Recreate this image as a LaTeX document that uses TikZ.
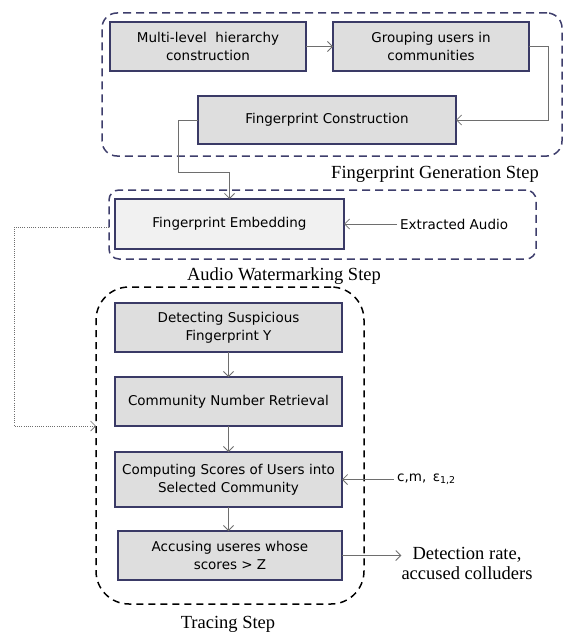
\documentclass[tikz,border=0pt]{standalone}
\usepackage{fontspec}
\setmainfont{Liberation Serif}
\setsansfont{DejaVu Sans}
\usetikzlibrary{arrows.meta}
\definecolor{boxfill}{HTML}{DEDEDE}
\definecolor{embfill}{HTML}{F1F1F1}
\definecolor{navy}{HTML}{3A3A66}
\definecolor{dashnavy}{HTML}{3E3E6C}
\definecolor{arrgray}{HTML}{6E6E6E}
\begin{document}
\begin{tikzpicture}[x=1pt,y=-1pt,
  procbox/.style={draw=navy, line width=1.4pt, fill=boxfill, outer sep=0pt, inner sep=0pt,
    font=\sffamily\fontsize{13.5}{18}\selectfont, align=center},
  framenavy/.style={draw=dashnavy, line width=1.5pt, dash pattern=on 8pt off 5pt, outer sep=0pt, inner sep=0pt},
  frameblack/.style={draw=black, line width=1.5pt, dash pattern=on 7pt off 5pt, outer sep=0pt, inner sep=0pt, rounded corners=33pt},
  steplabel/.style={font=\rmfamily\fontsize{18.5}{20}\selectfont, align=center, inner sep=0pt},
  sidelabel/.style={font=\sffamily\fontsize{13.5}{18}\selectfont, inner sep=3pt},
  arr/.style={draw=arrgray, line width=0.9pt, -{Straight Barb[length=5pt,width=10pt,line width=0.8pt]}},
  dotarr/.style={draw=arrgray, line width=0.7pt, dash pattern=on 1pt off 1.2pt, -{Straight Barb[length=5pt,width=10pt,line width=0.7pt]}}
]
\useasboundingbox (0,0) rectangle (579,634);

% dashed frames
\node[framenavy, rounded corners=15pt, minimum width=460pt, minimum height=143pt] (F1) at (332,84.5) {};
\node[framenavy, rounded corners=10pt, minimum width=427pt, minimum height=69pt] (F2) at (322.5,224.5) {};
\node[frameblack, minimum width=268pt, minimum height=317pt] (F3) at (230,445.5) {};

% process boxes
\node[procbox, minimum width=196pt, minimum height=49pt] (A) at (208,46.5) {Multi-level\ \ hierarchy\\construction};
\node[procbox, minimum width=196pt, minimum height=49pt] (B) at (431,46.5) {Grouping users in\\communities};
\node[procbox, minimum width=258pt, minimum height=48pt] (C) at (327,120) {Fingerprint Construction};
\node[procbox, fill=embfill, minimum width=229pt, minimum height=50pt] (E) at (229.5,224) {Fingerprint Embedding};
\node[procbox, minimum width=227pt, minimum height=49pt] (D) at (228.5,327.5) {Detecting Suspicious\\Fingerprint Y};
\node[procbox, minimum width=227pt, minimum height=49pt] (N) at (228.5,401.5) {Community Number Retrieval};
\node[procbox, minimum width=227pt, minimum height=55pt] (S) at (228.5,479.5) {Computing Scores of Users into\\Selected Community};
\node[procbox, minimum width=224pt, minimum height=49pt] (Z) at (230,555.5) {Accusing useres whose\\scores > Z};

% step labels
\node[steplabel] (LG) at (435,174) {Fingerprint Generation Step};
\node[steplabel] (LA) at (284,276) {Audio Watermarking Step};
\node[steplabel] (LT) at (228,624) {Tracing Step};

% side labels
\node[sidelabel, anchor=west] (EA) at (397,224) {Extracted Audio};
\node[sidelabel, anchor=west] (CM) at (394,479.5) {c,m,\ \,ε\textsubscript{1,2}};
\node[steplabel] (DR) at (467,563) {Detection rate,\\accused colluders};

% connectors
\coordinate (bc) at (548,120);
\coordinate (ce) at (178,172);
\draw[arr] (A.east) -- (B.west);
\draw[arr] (B.east) -| (bc) -- (C.east);
\draw[arr] (C.west) -| (ce) -| (E.north);
\draw[arr] (EA.west) -- (E.east);
\draw[arr] (D.south) -- (N.north);
\draw[arr] (N.south) -- (S.north);
\draw[arr] (S.south) -- (S.south |- Z.north);
\draw[arr] (CM.west) -- (S.east);
\draw[arr] (Z.east) -- (Z.east -| DR.west);

% dotted connector
\coordinate (d1) at (14,227);
\coordinate (d2) at (14,426);
\draw[dotarr] (F2.west |- d1) -- (d1) -- (d2) -- (d2 -| F3.west);
\end{tikzpicture}
\end{document}
